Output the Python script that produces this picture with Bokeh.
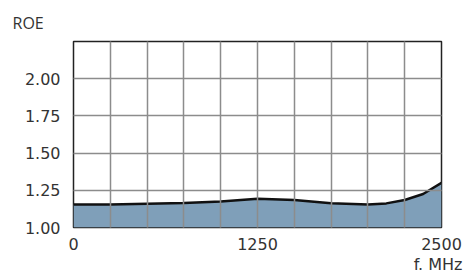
from bokeh.plotting import figure
from bokeh.models import FixedTicker, Title
from bokeh.embed import file_html
from bokeh.resources import INLINE

freq = [0, 250, 500, 750, 1000, 1250, 1500, 1750, 2000, 2125, 2250, 2375, 2500]
roe = [1.155, 1.155, 1.16, 1.165, 1.175, 1.193, 1.185, 1.163, 1.155, 1.162, 1.185, 1.225, 1.30]
x_ticks = [0, 1250, 2500]
y_ticks = [1.00, 1.25, 1.50, 1.75, 2.00]

p = figure(width=470, height=273, x_range=(0, 2500), y_range=(1.0, 2.25),
           output_backend="svg", toolbar_location=None,
           min_border_left=73, min_border_right=29, min_border_top=41, min_border_bottom=45)

p.varea(x=freq, y1=[1.0] * len(freq), y2=roe, fill_color="#7f9fb9")
p.line(freq, roe, line_color="#111111", line_width=2.5)

p.xaxis.ticker = FixedTicker(ticks=x_ticks)
p.yaxis.ticker = FixedTicker(ticks=y_ticks)
p.yaxis.major_label_overrides = {v: f"{v:.2f}" for v in y_ticks}
p.xgrid.ticker = FixedTicker(ticks=list(range(0, 2501, 250)))
p.ygrid.ticker = FixedTicker(ticks=[1.25, 1.5, 1.75, 2.0, 2.25])
p.grid.grid_line_color = "#8c8c8c"
p.grid.grid_line_width = 1.5
p.grid.level = "overlay"

for ax in (p.xaxis, p.yaxis):
    ax.axis_line_color = None
    ax.major_tick_line_color = None
    ax.minor_tick_line_color = None
    ax.major_label_text_font = "DejaVu Sans"
    ax.major_label_text_font_size = "16px"
    ax.major_label_text_color = "#333333"
p.xaxis.major_label_standoff = 4
p.yaxis.major_label_standoff = 7

p.outline_line_color = "#222222"
p.outline_line_width = 1.5
p.background_fill_color = "white"
p.border_fill_color = "white"

p.add_layout(Title(text="ROE", align="left", offset=-61, standoff=16,
                   text_font="Open Sans", text_font_size="16px",
                   text_font_style="normal", text_color="#333333"), "above")
p.add_layout(Title(text="f. MHz", align="right", offset=-21, standoff=0,
                   text_font="DejaVu Sans", text_font_size="16px",
                   text_font_style="normal", text_color="#333333"), "below")

open("out.html", "w").write(file_html(p, INLINE))
